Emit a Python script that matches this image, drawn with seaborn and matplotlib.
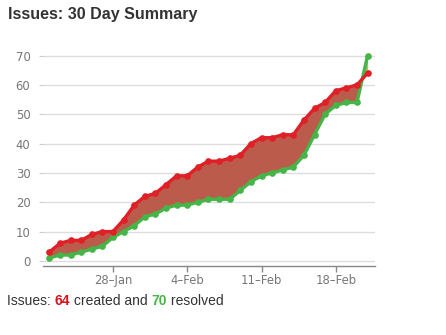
import matplotlib
matplotlib.use("Agg")
import matplotlib.pyplot as plt
import matplotlib.dates as mdates
import seaborn as sns
import pandas as pd
import numpy as np

dates = pd.date_range("2015-01-22", "2015-02-21", freq="D")
created = [3, 6, 7, 7, 9, 10, 10, 14, 19, 22, 23, 26, 29, 29, 32, 34, 34, 35, 36, 40,
           42, 42, 43, 43, 48, 52, 54, 58, 59, 60, 64]
resolved = [1, 2, 2, 3, 4, 5, 8, 10, 12, 15, 16, 18, 19, 19, 20, 21, 21, 21, 24, 27,
            29, 30, 31, 32, 36, 43, 50, 53, 54, 54, 70]
tick_dates = ["2015-01-28", "2015-02-04", "2015-02-11", "2015-02-18"]
y_ticks = [0, 10, 20, 30, 40, 50, 60, 70]

RED = "#e01f26"
GREEN = "#45b548"

df = pd.DataFrame({"date": dates, "created": created, "resolved": resolved})

sns.set_style("white")
plt.rcParams["font.family"] = ["DejaVu Sans"]

fig = plt.figure(figsize=(4.46, 3.35), dpi=100)
ax = fig.add_axes([0.0964, 0.2072, 0.7444, 0.6585])

ax.fill_between(df["date"], df["created"], df["resolved"],
                where=df["created"] >= df["resolved"], interpolate=True,
                color="#bb5b4c", linewidth=0, zorder=1)
ax.fill_between(df["date"], df["created"], df["resolved"],
                where=df["created"] < df["resolved"], interpolate=True,
                color="#9fc47a", linewidth=0, zorder=1)

sns.lineplot(data=df, x="date", y="resolved", ax=ax, color=GREEN, linewidth=2.4,
             marker="o", markersize=4.8, markeredgewidth=0, zorder=3)
sns.lineplot(data=df, x="date", y="created", ax=ax, color=RED, linewidth=2.4,
             marker="o", markersize=4.8, markeredgewidth=0, zorder=4)

ax.set_xlim(mdates.date2num(pd.Timestamp("2015-01-22")) - 0.6,
            mdates.date2num(pd.Timestamp("2015-01-22")) + 30.7)
ax.set_ylim(-1.6, 73.6)
ax.set_yticks(y_ticks)
ax.set_yticklabels([str(v) for v in y_ticks])
tds = pd.to_datetime(tick_dates)
ax.set_xticks(tds)
ax.set_xticklabels([f"{d.day}\u2013{d.strftime('%b')}" for d in tds])
ax.set_xlabel("")
ax.set_ylabel("")

ax.grid(axis="y", color="#dddddd", linewidth=1)
ax.grid(axis="x", visible=False)
ax.set_axisbelow(True)
for s in ["top", "right", "left"]:
    ax.spines[s].set_visible(False)
ax.spines["bottom"].set_color("#888888")
ax.spines["bottom"].set_linewidth(1)
ax.tick_params(axis="x", length=4, width=1, color="#888888", labelsize=8.4,
               labelcolor="#777777", pad=2, bottom=True)
ax.tick_params(axis="y", length=3, width=0.8, color="#cccccc", labelsize=8.4,
               labelcolor="#777777", pad=6, left=True)

fig.text(8 / 446, 1 - 14 / 335, "Issues: 30 Day Summary", fontsize=11.5,
         fontweight="bold", color="#333333", va="center", ha="left",
         family=["Liberation Sans", "DejaVu Sans"])

# Bottom summary line with coloured numbers
parts = [("Issues: ", "#333333", "normal"), ("64", "#d8141b", "bold"),
         (" created and ", "#333333", "normal"), ("70", "#45b548", "bold"),
         (" resolved", "#333333", "normal")]
fig.canvas.draw()
renderer = fig.canvas.get_renderer()
xpos = 7 / 446
ypos = 1 - 301 / 335
for txt, col, wt in parts:
    t = fig.text(xpos, ypos, txt, fontsize=10, color=col, fontweight=wt,
                 va="center", ha="left", family=["Liberation Sans", "DejaVu Sans"])
    bb = t.get_window_extent(renderer=renderer)
    xpos += bb.width / fig.bbox.width

fig.savefig("out.png", dpi=100)
